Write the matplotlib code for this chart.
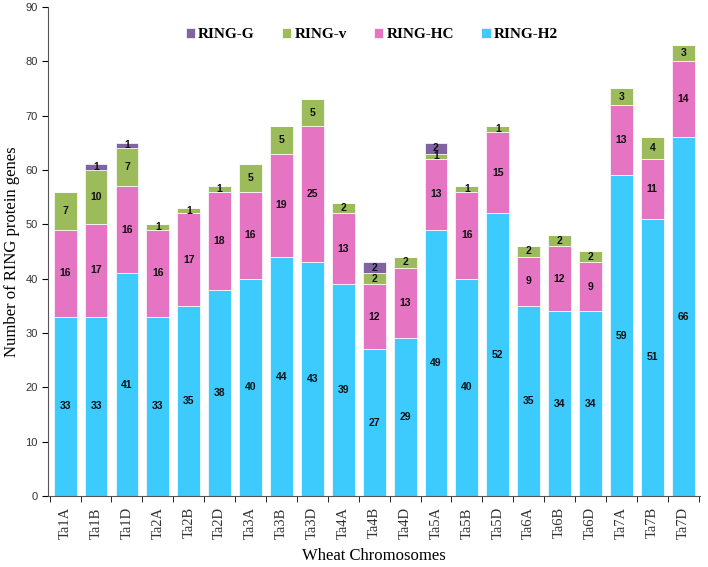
import numpy as np
import matplotlib
matplotlib.use("Agg")
import matplotlib.pyplot as plt

chromosomes = ["Ta1A", "Ta1B", "Ta1D", "Ta2A", "Ta2B", "Ta2D", "Ta3A", "Ta3B", "Ta3D",
               "Ta4A", "Ta4B", "Ta4D", "Ta5A", "Ta5B", "Ta5D", "Ta6A", "Ta6B", "Ta6D",
               "Ta7A", "Ta7B", "Ta7D"]
ring_h2 = [33, 33, 41, 33, 35, 38, 40, 44, 43, 39, 27, 29, 49, 40, 52, 35, 34, 34, 59, 51, 66]
ring_hc = [16, 17, 16, 16, 17, 18, 16, 19, 25, 13, 12, 13, 13, 16, 15, 9, 12, 9, 13, 11, 14]
ring_v = [7, 10, 7, 1, 1, 1, 5, 5, 5, 2, 2, 2, 1, 1, 1, 2, 2, 2, 3, 4, 3]
ring_g = [0, 1, 1, 0, 0, 0, 0, 0, 0, 0, 2, 0, 2, 0, 0, 0, 0, 0, 0, 0, 0]

plt.rcParams["font.family"] = ["Liberation Serif", "DejaVu Serif"]
SANS = ["Liberation Sans", "DejaVu Sans"]

fig = plt.figure(figsize=(7.08, 5.67), dpi=100)
ax = fig.add_axes([0.068, 0.125, 0.921, 0.863])

x = np.arange(len(chromosomes))
series = [
    ("RING-H2", ring_h2, "#3CCBFC"),
    ("RING-HC", ring_hc, "#E574C3"),
    ("RING-v", ring_v, "#9CBB5A"),
    ("RING-G", ring_g, "#8064A2"),
]
bottom = np.zeros(len(x))
handles = {}
for name, vals, color in series:
    vals = np.array(vals)
    bars = ax.bar(x, vals, width=0.74, bottom=bottom, color=color, edgecolor="white", linewidth=0.5)
    handles[name] = bars
    for xi, b, v in zip(x, bottom, vals):
        if v > 0:
            ax.text(xi, b + v / 2, str(v), ha="center", va="center", family=SANS,
                    fontsize=7.5, fontweight="bold", color="#111111")
    bottom = bottom + vals

ax.set_xlim(-0.55, len(x) - 0.45)
ax.set_ylim(0, 90)
ax.set_yticks(range(0, 91, 10))
ax.tick_params(axis="y", labelsize=8, direction="out", length=4, labelcolor="#333333")
for lbl in ax.get_yticklabels():
    lbl.set_family(SANS)
ax.set_xticks(x)
ax.set_xticklabels(chromosomes, rotation=90, fontsize=10.5)
ax.tick_params(axis="x", which="major", length=0, pad=8, labelcolor="#333333")
ax.set_xticks(np.arange(-0.5, len(x), 1), minor=True)
ax.tick_params(axis="x", which="minor", length=4, direction="out")
for s in ["top", "right"]:
    ax.spines[s].set_visible(False)
ax.spines["left"].set_color("#555555")
ax.spines["bottom"].set_color("#555555")

ax.set_ylabel("Number of RING protein genes", fontsize=12)
ax.set_xlabel("Wheat Chromosomes", fontsize=12, labelpad=6)

order = ["RING-G", "RING-v", "RING-HC", "RING-H2"]
leg = ax.legend([handles[n] for n in order], order, ncol=4, frameon=False,
                loc="upper left", bbox_to_anchor=(0.19, 0.985),
                prop={"weight": "bold", "size": 11}, handlelength=0.6,
                handleheight=0.6, columnspacing=1.8, handletextpad=0.2)

plt.savefig("out.png", dpi=100, facecolor="white")
plt.close()
